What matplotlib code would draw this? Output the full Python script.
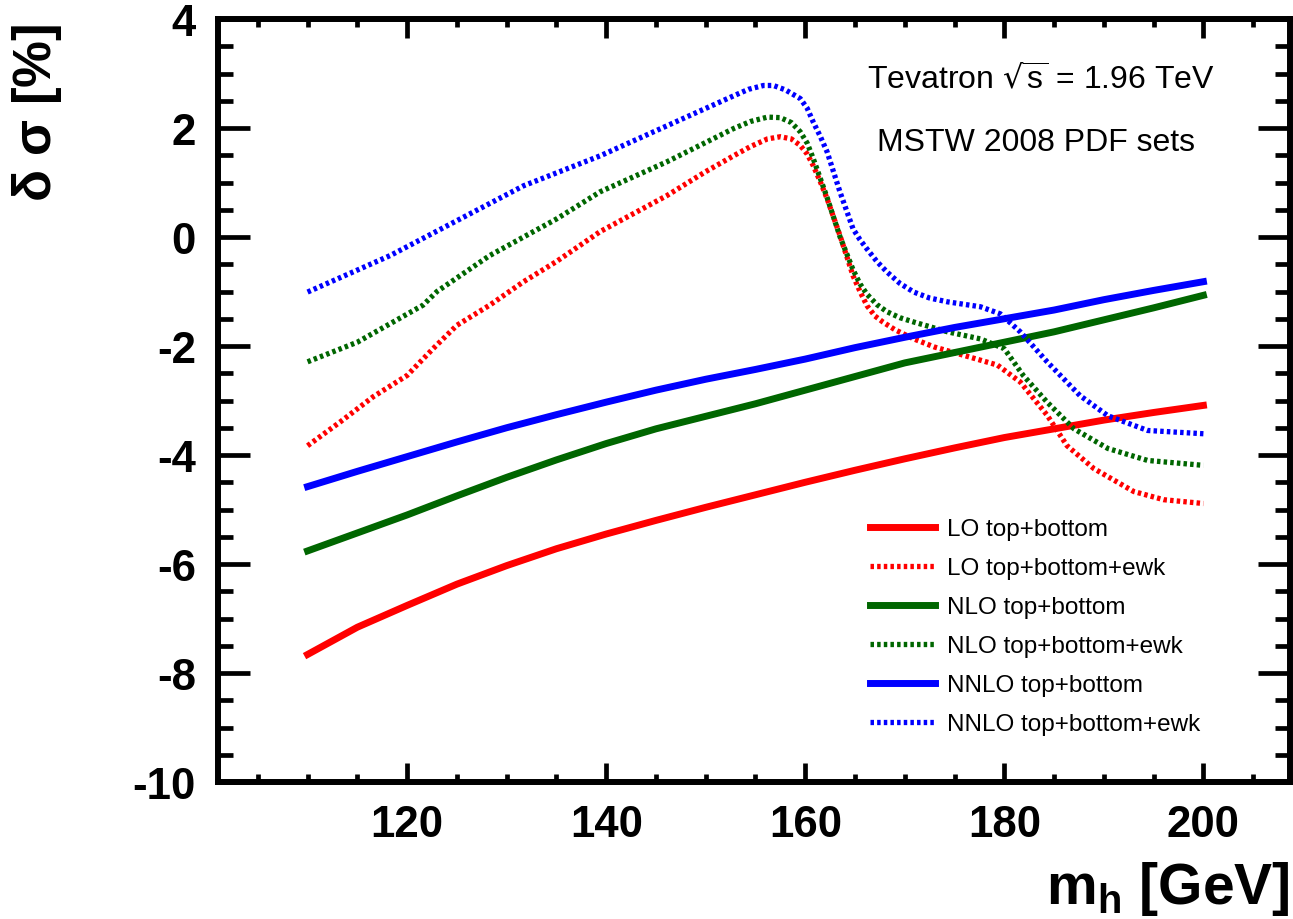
import matplotlib
matplotlib.use("Agg")
import matplotlib.pyplot as plt
from matplotlib.ticker import MultipleLocator
from matplotlib.lines import Line2D

# ---- data ----
m_solid = [110, 115, 120, 125, 130, 135, 140, 145, 150, 155,
           160, 165, 170, 175, 180, 185, 190, 195, 200]
lo = [-7.66, -7.16, -6.76, -6.37, -6.03, -5.72, -5.45, -5.2, -4.96, -4.73,
      -4.5, -4.28, -4.07, -3.87, -3.68, -3.52, -3.36, -3.22, -3.09]
nlo = [-5.76, -5.43, -5.1, -4.75, -4.41, -4.09, -3.79, -3.52, -3.29, -3.06,
       -2.81, -2.56, -2.31, -2.12, -1.93, -1.74, -1.52, -1.3, -1.07]
nnlo = [-4.58, -4.3, -4.03, -3.76, -3.5, -3.26, -3.03, -2.81, -2.61, -2.43,
        -2.24, -2.03, -1.84, -1.66, -1.5, -1.34, -1.15, -0.98, -0.82]

m_lo_ewk = [110, 113.3, 116.6, 120, 122.6, 125, 128.3, 131.7, 135, 139.4,
            146.1, 150, 152.8, 154.5, 156.2, 157.5, 158.6, 159.5, 160.2,
            160.8, 161.5, 162.2, 163.5, 164.8, 165.5, 166.2, 167, 167.8,
            169, 170.9, 173, 175.9, 179.3, 181.6, 184.3, 186.3, 189,
            193, 196, 200]
lo_ewk = [-3.83, -3.39, -2.93, -2.54, -2.05, -1.62, -1.25, -0.82, -0.45, 0.1,
          0.76, 1.2, 1.49, 1.66, 1.8, 1.84, 1.8, 1.68, 1.52,
          1.31, 1.02, 0.7, 0.02, -0.71, -1.0, -1.26, -1.45, -1.56,
          -1.7, -1.87, -2.02, -2.17, -2.35, -2.66, -3.27, -3.83, -4.25,
          -4.67, -4.82, -4.89]

m_nlo_ewk = [110, 115, 121.6, 123, 128.3, 135, 139.4, 146.1, 152.8, 154.5,
             156.2, 157.5, 158.6, 159.5, 160.2, 160.8, 161.5, 162.2, 163.5,
             164.8, 165.5, 166.2, 167.2, 168.2, 169.5, 170.9, 174.3, 177.6,
             180, 181.9, 184.3, 187, 190.4, 194.4, 200]
nlo_ewk = [-2.29, -1.93, -1.25, -1.0, -0.34, 0.33, 0.83, 1.38, 1.99, 2.12,
           2.2, 2.19, 2.1, 1.93, 1.72, 1.44, 1.08, 0.72, 0.0,
           -0.6, -0.86, -1.05, -1.24, -1.37, -1.48, -1.56, -1.74, -1.87,
           -2.05, -2.54, -3.03, -3.52, -3.88, -4.1, -4.19]

m_nnlo_ewk = [110, 118.3, 125, 131.7, 139.4, 146.1, 152.8, 154.3, 155.8, 156.8,
              158, 159.5, 160.2, 160.8, 161.5, 162.2, 163.5, 164.8, 165.5,
              166.2, 167.2, 168.2, 169.5, 170.9, 172.5, 174.3, 177.6, 179.6,
              181.6, 184.3, 187.6, 190.4, 194.4, 200]
nnlo_ewk = [-1.01, -0.34, 0.3, 0.94, 1.49, 2.04, 2.59, 2.71, 2.78, 2.78,
            2.7, 2.54, 2.36, 2.11, 1.85, 1.56, 0.82, 0.15, -0.05,
            -0.22, -0.45, -0.64, -0.85, -1.01, -1.12, -1.19, -1.28, -1.41,
            -1.74, -2.29, -2.91, -3.28, -3.55, -3.61]

labels = ["LO top+bottom", "LO top+bottom+ewk", "NLO top+bottom",
          "NLO top+bottom+ewk", "NNLO top+bottom", "NNLO top+bottom+ewk"]
red, green, blue = "#ff0000", "#006600", "#0000ff"

plt.rcParams["font.family"] = ["Liberation Sans", "DejaVu Sans"]
plt.rcParams["axes.unicode_minus"] = False
plt.rcParams["mathtext.default"] = "regular"

W, H = 1293, 920
fig = plt.figure(figsize=(W / 100, H / 100), dpi=100)
ax = fig.add_axes([218 / W, 1 - 783 / H, (1290 - 218) / W, (783 - 20) / H])

dot = (0, (0.66, 0.6))
ax.plot(m_solid, lo, color=red, lw=5)
ax.plot(m_lo_ewk, lo_ewk, color=red, lw=3.8, ls=dot)
ax.plot(m_solid, nlo, color=green, lw=5)
ax.plot(m_nlo_ewk, nlo_ewk, color=green, lw=3.8, ls=dot)
ax.plot(m_solid, nnlo, color=blue, lw=5)
ax.plot(m_nnlo_ewk, nnlo_ewk, color=blue, lw=3.8, ls=dot)

ax.set_xlim(101, 208.7)
ax.set_ylim(-10, 4)
ax.xaxis.set_major_locator(MultipleLocator(20))
ax.xaxis.set_minor_locator(MultipleLocator(5))
ax.yaxis.set_major_locator(MultipleLocator(2))
ax.yaxis.set_minor_locator(MultipleLocator(0.5))
for s in ax.spines.values():
    s.set_linewidth(4.3)
ax.tick_params(axis="both", which="both", direction="in", width=3.4,
               top=True, right=True)
ax.tick_params(axis="x", which="major", length=14, pad=16)
ax.tick_params(axis="x", which="minor", length=6)
ax.tick_params(axis="y", which="major", length=23, pad=16)
ax.tick_params(axis="y", which="minor", length=11)
for lab in ax.get_xticklabels() + ax.get_yticklabels():
    lab.set_fontweight("bold")
    lab.set_fontsize(31.5)

# legend
handles = [Line2D([], [], color=red, lw=5),
           Line2D([], [], color=red, lw=3.8, ls=dot),
           Line2D([], [], color=green, lw=5),
           Line2D([], [], color=green, lw=3.8, ls=dot),
           Line2D([], [], color=blue, lw=5),
           Line2D([], [], color=blue, lw=3.8, ls=dot)]
fig.legend(handles, labels, loc="upper left",
           bbox_to_anchor=(870 / W, 1 - 519 / H), frameon=False,
           fontsize=17.5, handlelength=2.67, handletextpad=0.5,
           labelspacing=0.7, borderpad=0, borderaxespad=0)

fig.text(1041 / W, 1 - 80 / H, r"Tevatron $\sqrt{s}$ = 1.96 TeV",
         ha="center", va="center", fontsize=23)
fig.text(1036 / W, 1 - 143 / H, "MSTW 2008 PDF sets",
         ha="center", va="center", fontsize=23)

fig.text(1290 / W, 1 - 904 / H, r"m$_{h}$ [GeV]", ha="right",
         va="baseline", fontsize=41, fontweight="bold")
fig.text(37 / W, 1 - 113 / H, r"$\delta$ $\sigma$ [%]", rotation=90,
         ha="center", va="center", fontsize=38, fontweight="bold")

fig.savefig("out.png", dpi=100)
